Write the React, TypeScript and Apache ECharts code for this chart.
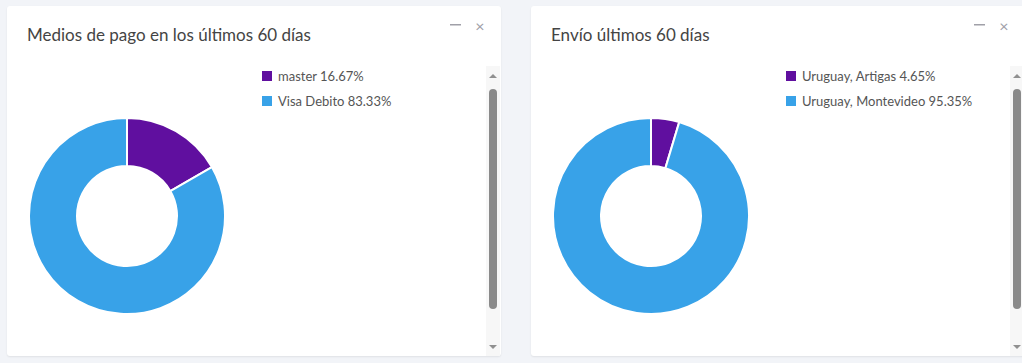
import React, { useEffect, useRef } from "react";
import * as echarts from "echarts";

const FONT = "Lato, 'Noto Sans', sans-serif";
const PURPLE = "#600f9f";
const BLUE = "#38a2e8";

const paymentTitle = "Medios de pago en los últimos 60 días";
const paymentNames = ["master", "Visa Debito"];
const paymentValues = [16.67, 83.33];

const shippingTitle = "Envío últimos 60 días";
const shippingNames = ["Uruguay, Artigas", "Uruguay, Montevideo"];
const shippingValues = [4.65, 95.35];

function PieCard(props: { left: number; width: number; title: string; names: string[]; values: number[] }) {
  const ref = useRef<HTMLDivElement>(null);
  useEffect(() => {
    if (!ref.current) return;
    const chart = echarts.init(ref.current, undefined, { renderer: "svg" });
    const data = props.names.map((n, i) => ({ name: n, value: props.values[i] }));
    const pct: Record<string, number> = {};
    props.names.forEach((n, i) => (pct[n] = props.values[i]));
    chart.setOption({
      animation: false,
      color: [PURPLE, BLUE],
      title: {
        text: props.title,
        left: 15,
        top: 15,
        textStyle: { fontFamily: FONT, fontSize: 17, fontWeight: "normal", color: "#444" },
      },
      legend: {
        orient: "vertical",
        left: 248,
        top: 58,
        itemWidth: 12,
        itemHeight: 12,
        itemGap: 11,
        icon: "rect",
        textStyle: { fontFamily: FONT, fontSize: 13, color: "#555" },
        formatter: (name: string) => `${name} ${pct[name].toFixed(2)}%`,
      },
      graphic: [
        { type: "rect", shape: { x: 443, y: 18, width: 11, height: 1.5 }, style: { fill: "#a0a0a8" } },
        {
          type: "text",
          x: 473,
          y: 19,
          style: { text: "×", fontSize: 16, fontFamily: FONT, fill: "#a0a0a8", align: "center", verticalAlign: "middle" },
        },
      ],
      series: [
        {
          type: "pie",
          center: [120, 210],
          radius: [50, 98],
          startAngle: 90,
          clockwise: true,
          label: { show: false },
          labelLine: { show: false },
          emphasis: { disabled: true },
          itemStyle: { borderColor: "#fff", borderWidth: 2 },
          data,
        },
      ],
    });
    return () => chart.dispose();
  }, []);
  return (
    <div
      style={{
        position: "absolute",
        left: props.left,
        top: 6,
        width: props.width,
        height: 350,
        background: "#fff",
        borderRadius: 3,
        boxShadow: "0 1px 2px rgba(0,0,0,0.08)",
        overflow: "hidden",
      }}
    >
      <div ref={ref} style={{ position: "absolute", left: 0, top: 0, width: 494, height: 350 }} />
      <div style={{ position: "absolute", left: 479, top: 60, width: 14, height: 290, background: "#f7f7f7" }}>
        <div
          style={{
            position: "absolute",
            left: 3,
            top: 8,
            width: 0,
            height: 0,
            borderLeft: "4px solid transparent",
            borderRight: "4px solid transparent",
            borderBottom: "4px solid #909090",
          }}
        />
        <div
          style={{
            position: "absolute",
            left: 3,
            top: 23,
            width: 8,
            height: 220,
            borderRadius: 4,
            background: "#8a8a8a",
          }}
        />
        <div
          style={{
            position: "absolute",
            left: 3,
            top: 279,
            width: 0,
            height: 0,
            borderLeft: "4px solid transparent",
            borderRight: "4px solid transparent",
            borderTop: "4px solid #909090",
          }}
        />
      </div>
    </div>
  );
}

export default function App() {
  useEffect(() => {
    document.body.style.margin = "0";
  }, []);
  return (
    <div style={{ position: "relative", width: 1022, height: 363, background: "#f2f4f8", overflow: "hidden" }}>
      <PieCard left={7} width={494} title={paymentTitle} names={paymentNames} values={paymentValues} />
      <PieCard left={531} width={500} title={shippingTitle} names={shippingNames} values={shippingValues} />
    </div>
  );
}
